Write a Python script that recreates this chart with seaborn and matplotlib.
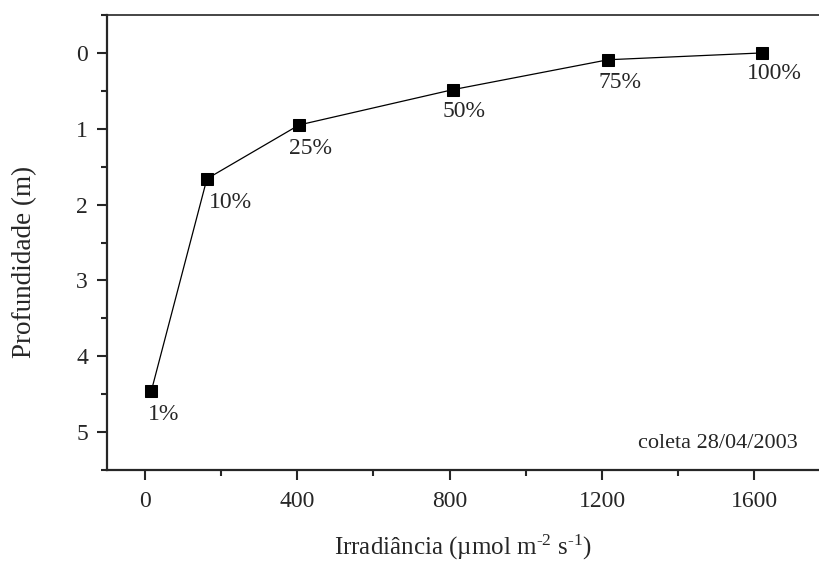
import matplotlib
matplotlib.use("Agg")
import matplotlib.pyplot as plt
import seaborn as sns
import pandas as pd
from matplotlib.ticker import MultipleLocator

# Data
irradiance = [17, 163, 405, 808, 1216, 1620]
depth = [4.46, 1.66, 0.95, 0.485, 0.09, 0.0]
pct_labels = ["1%", "10%", "25%", "50%", "75%", "100%"]
x_ticks = [0, 400, 800, 1200, 1600]
y_ticks = [0, 1, 2, 3, 4, 5]

# label offsets in pixels (dx, dy)
label_offsets = [(-3, -29), (2, -29), (-10, -29), (-10, -27), (-10, -28), (-15, -26)]

sns.set_style("ticks")
plt.rcParams["font.family"] = ["Liberation Serif", "DejaVu Serif"]
plt.rcParams["mathtext.fontset"] = "custom"
plt.rcParams["mathtext.rm"] = "Liberation Serif"
plt.rcParams["mathtext.it"] = "Liberation Serif:italic"

df = pd.DataFrame({"x": irradiance, "y": depth})

fig = plt.figure(figsize=(8.2, 5.64), dpi=100)
ax = fig.add_axes([106.7 / 820, 1 - 470 / 564, 1 - 106.7 / 820, (470 - 15) / 564])

sns.lineplot(data=df, x="x", y="y", ax=ax, color="black", linewidth=0.9,
             marker="s", markersize=8, markeredgecolor="black",
             markerfacecolor="black", sort=False, estimator=None)

for xv, yv, lab, (dx, dy) in zip(irradiance, depth, pct_labels, label_offsets):
    ax.annotate(lab, (xv, yv), xytext=(dx, dy), textcoords="offset pixels",
                ha="left", va="baseline", fontsize=17)

ax.set_xlim(-100, 1772)
ax.set_ylim(5.5, -0.5)
ax.set_xticks(x_ticks)
ax.set_yticks(y_ticks)
ax.xaxis.set_minor_locator(MultipleLocator(200))
ax.yaxis.set_minor_locator(MultipleLocator(0.5))

ax.tick_params(which="major", direction="out", length=7.5, width=1.5,
               labelsize=17, pad=6, top=False, right=False)
ax.tick_params(axis="x", which="major", pad=7.5)
ax.tick_params(which="minor", direction="out", length=4.5, width=1.5,
               top=False, right=False)

for s in ["left", "bottom"]:
    ax.spines[s].set_linewidth(1.6)
ax.spines["top"].set_visible(True)
ax.spines["top"].set_linewidth(1.2)
ax.spines["right"].set_visible(False)

ax.set_xlabel(r"Irradiância (µmol m$^{\text{-2}}$ s$^{\text{-1}}$)", fontsize=18, labelpad=15)
ax.set_ylabel("Profundidade (m)", fontsize=19.5)
ax.yaxis.set_label_coords((37 - 106.7) / 713.3, (470 - 262) / 455)

ax.text(0.969, 0.048, "coleta 28/04/2003", transform=ax.transAxes,
        ha="right", va="baseline", fontsize=16)

fig.savefig("out.png", dpi=100)
